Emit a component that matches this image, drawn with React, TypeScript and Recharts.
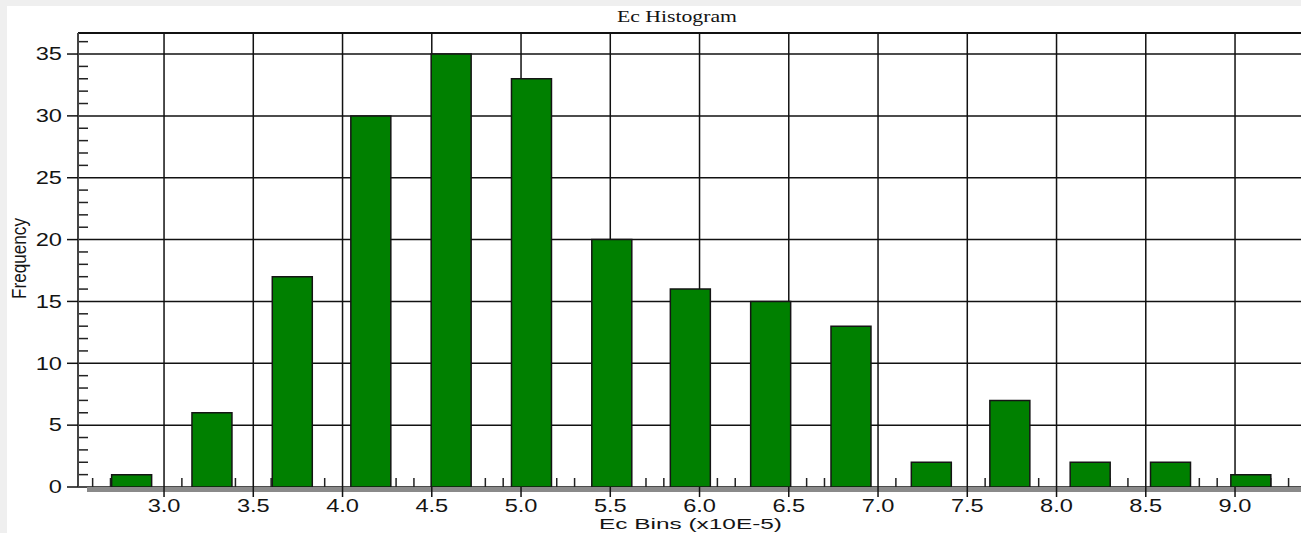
import React from 'react';
import { ComposedChart, Bar, XAxis, YAxis, CartesianGrid, ReferenceLine } from 'recharts';

// Histogram bins (centre of each bin, in units of 1e-5) and their counts
const binCenters = [2.82, 3.27, 3.72, 4.16, 4.61, 5.06, 5.51, 5.95, 6.4, 6.85, 7.3, 7.74, 8.19, 8.64, 9.09];
const frequencies = [1, 6, 17, 30, 35, 33, 20, 16, 15, 13, 2, 7, 2, 2, 1];

const xTicks = [3.0, 3.5, 4.0, 4.5, 5.0, 5.5, 6.0, 6.5, 7.0, 7.5, 8.0, 8.5, 9.0];
const yTicks = [0, 5, 10, 15, 20, 25, 30, 35];
const xDomain: [number, number] = [2.518, 9.42];
const yDomain: [number, number] = [0, 36.7];

// minor tick positions: every 0.1 on x, every 1 on y (majors excluded)
const xMinorTicks: number[] = [];
for (let i = 26; i <= 94; i++) if (i % 5 !== 0) xMinorTicks.push(i / 10);
const yMinorTicks: number[] = [];
for (let i = 1; i <= 36; i++) if (i % 5 !== 0) yMinorTicks.push(i);

const data = binCenters.map((bin, i) => ({ bin, count: frequencies[i] }));

const SANS = "'Liberation Sans', Arial, sans-serif";
const SERIF = "'Liberation Serif', 'Times New Roman', serif";
const INK = '#141414';

const YTick = (props: any) => {
  const { x, y, payload } = props;
  return (
    <text
      x={0}
      y={0}
      transform={`translate(${x},${y}) scale(1.35,1)`}
      dy={6.3}
      textAnchor="end"
      fontFamily={SANS}
      fontSize={17.5}
      fill={INK}
    >
      {payload.value}
    </text>
  );
};

const XTick = (props: any) => {
  const { x, y, payload } = props;
  return (
    <text
      x={0}
      y={0}
      transform={`translate(${x},${y}) scale(1.35,1)`}
      dy={13}
      textAnchor="middle"
      fontFamily={SANS}
      fontSize={17.5}
      fill={INK}
    >
      {Number(payload.value).toFixed(1)}
    </text>
  );
};

const NoLabel = () => <g />;

export default function App() {
  return (
    <div
      style={{
        position: 'absolute',
        left: 0,
        top: 0,
        width: 1301,
        height: 533,
        overflow: 'hidden',
        background: '#efefef',
      }}
    >
      <div style={{ position: 'absolute', left: 7, top: 6, right: 0, bottom: 0, background: '#ffffff' }} />
      <div style={{ position: 'absolute', left: 0, top: 0 }}>
        <ComposedChart
          width={1320}
          height={533}
          data={data}
          margin={{ top: 33, right: 10, bottom: 0, left: 18 }}
        >
          <CartesianGrid stroke="#111" strokeWidth={1.5} />
          <XAxis
            xAxisId="minor"
            type="number"
            dataKey="bin"
            mirror
            domain={xDomain}
            allowDataOverflow
            ticks={xMinorTicks}
            interval={0}
            tickSize={9}
            axisLine={false}
            tickLine={{ stroke: '#222', strokeWidth: 1.5 }}
            tick={<NoLabel />}
            zIndex={100}
          />
          <YAxis
            yAxisId="minor"
            type="number"
            mirror
            domain={yDomain}
            allowDataOverflow
            ticks={yMinorTicks}
            interval={0}
            tickSize={10}
            axisLine={false}
            tickLine={{ stroke: '#222', strokeWidth: 1.5 }}
            tick={<NoLabel />}
            zIndex={100}
          />
          <Bar
            dataKey="count"
            fill="#008000"
            stroke="#151515"
            strokeWidth={1.5}
            barSize={40}
            isAnimationActive={false}
          />
          <ReferenceLine y={yDomain[1]} stroke="#111" strokeWidth={2} />
          <XAxis
            type="number"
            dataKey="bin"
            domain={xDomain}
            allowDataOverflow
            ticks={xTicks}
            interval={0}
            height={46}
            tickSize={10}
            tickMargin={2}
            axisLine={{ stroke: '#8a8a8a', strokeWidth: 5, transform: 'translate(9,2.5)' }}
            tickLine={{ stroke: '#111', strokeWidth: 1.5 }}
            tick={<XTick />}
          />
          <YAxis
            type="number"
            domain={yDomain}
            allowDataOverflow
            ticks={yTicks}
            interval={0}
            width={60}
            tickSize={11}
            tickMargin={5}
            axisLine={{ stroke: '#444', strokeWidth: 2 }}
            tickLine={{ stroke: '#111', strokeWidth: 1.5 }}
            tick={<YTick />}
          />
        </ComposedChart>
      </div>
      <svg
        width={1301}
        height={533}
        style={{ position: 'absolute', left: 0, top: 0, pointerEvents: 'none' }}
      >
        <text
          x={677}
          y={21.7}
          textAnchor="middle"
          fontFamily={SERIF}
          fontSize={16.6}
          textLength={120}
          lengthAdjust="spacingAndGlyphs"
          fill={INK}
        >
          Ec Histogram
        </text>
        <text
          x={690.5}
          y={529}
          textAnchor="middle"
          fontFamily={SANS}
          fontSize={15.5}
          textLength={183}
          lengthAdjust="spacingAndGlyphs"
          fill={INK}
        >
          Ec Bins (x10E-5)
        </text>
        <text
          x={0}
          y={0}
          transform="translate(26,258.5) rotate(-90) scale(1,1.15)"
          textAnchor="middle"
          fontFamily={SANS}
          fontSize={17.5}
          textLength={81}
          lengthAdjust="spacingAndGlyphs"
          fill={INK}
        >
          Frequency
        </text>
      </svg>
    </div>
  );
}
